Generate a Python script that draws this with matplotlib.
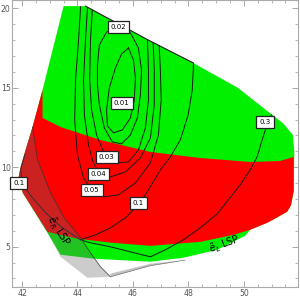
import matplotlib
matplotlib.use("Agg")
import matplotlib.pyplot as plt
from matplotlib.patches import Polygon
import numpy as np

# --- regions (data units) ---
green_x = [43.50, 44.29, 46.56, 48.18, 49.79, 50.94, 51.41, 51.77, 51.82, 51.80, 51.70, 51.56,
           51.05, 50.84, 50.23, 50.05, 49.76, 49.04, 47.82, 46.63, 44.59, 43.39, 42.92,
           42.03, 41.88, 41.95, 42.13, 42.38, 42.74]
green_y = [20.14, 20.14, 18.00, 16.56, 14.99, 13.41, 12.78, 12.03, 11.00, 8.50, 7.60, 7.19,
           6.69, 6.50, 6.06, 5.68, 5.43, 4.80, 4.30, 4.05, 4.24, 4.49, 5.87,
           8.38, 9.39, 10.01, 11.09, 12.53, 14.86]

red_x = [42.74, 42.74, 43.39, 44.83, 46.63, 48.43, 50.23, 51.30, 51.80, 51.80, 51.70, 51.56,
         51.05, 50.84, 50.23, 49.62, 48.43, 46.63, 45.20, 44.00, 42.92,
         42.03, 41.88, 41.95, 42.13, 42.38]
red_y = [14.86, 13.10, 12.53, 11.71, 10.96, 10.58, 10.33, 10.39, 10.65, 8.50, 7.60, 7.19,
         6.69, 6.50, 6.06, 5.74, 5.30, 5.05, 5.25, 5.50, 5.93,
         8.38, 9.39, 10.01, 11.09, 12.53]

lsp_x = [42.38, 42.56, 43.03, 43.50, 44.11, 44.47, 44.83, 45.19, 44.36, 43.39, 42.92,
         42.03, 41.88, 41.95, 42.13]
lsp_y = [12.53, 10.46, 8.38, 6.87, 5.56, 4.61, 3.73, 3.10, 3.04, 4.36, 5.87,
         8.38, 9.39, 10.01, 11.09]

sliver_x = [45.19, 46.63, 47.88, 46.63, 45.19]
sliver_y = [3.10, 3.80, 4.15, 3.92, 3.30]

edge_x = [44.29, 46.56, 48.18]
edge_y = [20.14, 18.00, 16.56]

# --- contour lines ---
contours = {
    "0.01": ([45.84, 46.02, 46.09, 46.05, 45.91, 45.62, 45.30, 45.08, 45.05, 45.15, 45.37, 45.59, 45.84],
             [17.50, 16.75, 15.62, 14.23, 13.10, 12.35, 12.16, 12.60, 13.60, 14.99, 16.25, 17.13, 17.50]),
    "0.02": ([45.48, 45.05, 44.79, 44.72, 44.72, 44.79, 44.97, 45.26, 45.59, 45.91, 46.16, 46.27, 46.31, 46.20, 45.91, 45.48],
             [18.89, 18.51, 17.69, 16.43, 15.18, 13.92, 12.47, 11.59, 11.47, 12.03, 13.10, 14.55, 16.12, 17.50, 18.45, 18.89]),
    "0.03": ([44.55, 44.47, 44.44, 44.51, 44.69, 44.94, 45.37, 45.84, 46.20, 46.45, 46.56, 46.56, 46.52],
             [20.30, 18.01, 15.49, 13.60, 12.03, 10.96, 10.27, 10.33, 11.09, 12.47, 14.23, 16.12, 18.30]),
    "0.04": ([44.37, 44.29, 44.22, 44.25, 44.40, 44.55, 44.76, 45.19, 45.73, 46.27, 46.63, 46.77, 46.77, 46.72],
             [20.30, 18.01, 15.49, 13.28, 11.40, 10.39, 9.64, 9.39, 9.70, 10.58, 11.84, 13.92, 16.12, 18.20]),
    "0.05": ([44.12, 44.04, 43.93, 43.90, 44.00, 44.22, 44.51, 44.94, 45.48, 46.09, 46.63, 46.92, 47.02, 46.99, 46.94],
             [20.30, 18.01, 15.49, 12.97, 10.77, 9.33, 8.57, 8.13, 8.26, 9.01, 10.27, 12.03, 14.23, 16.12, 17.90]),
    "0.1": ([48.20, 48.14, 47.99, 47.71, 47.35, 46.99, 46.56, 46.20, 45.73, 45.19, 44.65, 44.11,
             43.46, 42.85, 42.38, 42.03, 41.95, 42.10],
            [17.00, 14.86, 13.28, 11.72, 10.65, 9.83, 8.57, 7.63, 6.81, 6.18, 5.74, 5.43,
             6.18, 7.13, 8.07, 8.89, 9.83, 10.77]),
    "0.3": ([51.20, 50.87, 50.66, 50.48, 50.23, 49.87, 49.44, 49.04, 48.43, 47.82, 47.17, 46.63,
             45.91, 45.19, 44.47, 44.11],
            [14.00, 12.85, 11.72, 10.65, 9.83, 8.89, 7.94, 7.06, 6.18, 5.43, 4.80, 4.36,
             4.67, 4.99, 5.24, 5.43]),
}

label_text = ["0.02", "0.01", "0.03", "0.04", "0.05", "0.1", "0.1", "0.3"]
label_x = [45.48, 45.59, 45.05, 44.76, 44.51, 46.20, 41.88, 50.77]
label_y = [18.82, 14.04, 10.65, 9.58, 8.57, 7.75, 9.01, 12.85]


def plot_regions():
    fig = plt.figure(figsize=(3.0, 3.02), dpi=100)
    ax = fig.add_axes([0.041, 0.0487, 0.952, 0.951])

    ax.add_patch(Polygon(np.column_stack([green_x, green_y]), closed=True,
                         fc="#00f000", ec="none", zorder=1))
    ax.add_patch(Polygon(np.column_stack([red_x, red_y]), closed=True,
                         fc="#ff0000", ec="none", zorder=2))

    clip = Polygon(np.column_stack([green_x, green_y]), closed=True,
                   fc="none", ec="none", transform=ax.transData)
    for name, (xs, ys) in contours.items():
        ln, = ax.plot(xs, ys, color="#1a1a1a", lw=0.7, zorder=3)
        ln.set_clip_path(clip)

    ax.plot(edge_x, edge_y, color="#1a1a1a", lw=0.8, zorder=3)

    # excluded LSP region
    ax.add_patch(Polygon(np.column_stack([lsp_x, lsp_y]), closed=True,
                         fc="#666666", alpha=0.33, ec="none", zorder=4))
    ax.add_patch(Polygon(np.column_stack([sliver_x, sliver_y]), closed=True,
                         fc="#666666", alpha=0.4, ec="none", zorder=4))
    ax.plot(lsp_x[:8], lsp_y[:8], color="#333333", lw=0.6, alpha=0.8, zorder=4)
    ax.plot(sliver_x[:3], sliver_y[:3], color="#555555", lw=0.5, alpha=0.8, zorder=4)

    for t, x, y in zip(label_text, label_x, label_y):
        ax.text(x, y, t, fontsize=5, ha="center", va="center", zorder=6,
                bbox=dict(boxstyle="square,pad=0.45", fc="white", ec="#222222", lw=0.9))

    ax.text(43.30, 5.95, r"$\tilde{e}_R$ LSP", fontsize=7, rotation=-58,
            ha="center", va="center", zorder=6)
    ax.text(49.33, 5.15, r"$\tilde{e}_L$ LSP", fontsize=7, rotation=20,
            ha="center", va="center", zorder=6)

    ax.set_xlim(41.65, 51.95)
    ax.set_ylim(2.44, 20.52)
    ax.set_xticks([42, 44, 46, 48, 50])
    ax.set_xticks(np.arange(42.5, 52, 0.5), minor=True)
    ax.set_yticks([5, 10, 15, 20])
    ax.set_yticks(np.arange(3, 21, 1), minor=True)
    ax.tick_params(which="both", direction="in", colors="#999999", labelcolor="#555555",
                   labelsize=5.6, top=True, right=True, pad=1.2)
    ax.tick_params(which="major", length=4, width=0.6)
    ax.tick_params(which="minor", length=2, width=0.5)
    for s in ax.spines.values():
        s.set_color("#aaaaaa")
        s.set_linewidth(0.8)

    fig.savefig("out.png", dpi=100)


if __name__ == "__main__":
    plot_regions()
